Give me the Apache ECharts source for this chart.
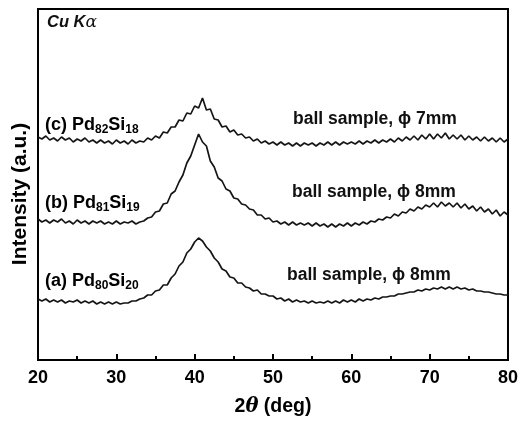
<!DOCTYPE html>
<html>
<head>
<meta charset="utf-8">
<script src="https://cdn.jsdelivr.net/npm/echarts@6/dist/echarts.min.js"></script>
<style>
html,body{margin:0;padding:0;background:#fff;}
#main{width:521px;height:425px;}
</style>
</head>
<body>
<div id="main"></div>
<script>
// 2theta sampled every 0.5 deg from 20 to 80
var theta_start = 20, theta_step = 0.5;

// (c) Pd82Si18, ball sample 7mm
var curve_c = [
    223,221,224,220,222,219,223,220,222,218,
    221,219,222,218,220,217,220,217,219,216,
    220,217,219,216,220,217,219,218,222,220,
    224,222,228,227,233,233,240,239,247,246,
    254,252,262,250,251,241,240,233,234,228,
    230,225,226,222,223,219,221,217,219,216,
    218,215,218,215,217,214,217,214,217,215,
    217,214,217,215,218,215,218,215,218,216,
    218,216,219,216,219,217,220,217,220,218,
    221,218,222,219,223,220,224,220,225,221,
    226,221,226,222,227,221,225,221,225,220,
    224,220,223,219,223,219,222,218,222,218,
    221
];
// (b) Pd81Si19, ball sample 8mm
var curve_b = [
    141,138,140,137,140,138,141,137,139,136,
    140,137,139,136,139,137,139,136,138,136,
    139,136,138,137,139,136,138,139,142,143,
    148,149,156,157,166,169,178,185,197,204,
    215,226,218,214,199,193,182,179,171,169,
    162,161,156,155,151,150,145,145,141,142,
    138,139,136,138,135,138,135,137,135,137,
    134,137,134,136,133,136,133,136,134,137,
    134,137,135,138,136,139,138,141,140,143,
    142,146,144,148,147,151,149,153,151,155,
    153,157,153,158,154,157,153,157,152,156,
    151,154,149,153,148,151,146,150,144,148,
    145
];
// (a) Pd80Si20, ball sample 8mm
var curve_a = [
    61,59,61,58,60,58,60,57,59,58,
    60,57,59,57,59,56,58,56,58,56,
    58,56,57,57,59,59,61,62,65,65,
    69,70,75,75,82,86,94,98,107,111,
    118,122,119,113,109,102,98,91,89,83,
    82,77,77,73,72,69,70,66,66,64,
    64,61,62,59,61,58,60,58,59,57,
    59,57,58,57,59,57,59,57,60,58,
    60,58,61,59,61,60,62,61,63,63,
    64,64,66,66,67,68,68,70,69,71,
    70,72,71,73,71,73,71,73,71,72,
    70,71,69,69,68,68,67,66,66,65,
    65
];

var x_ticks = [20, 30, 40, 50, 60, 70, 80];

function pairs(arr){
    var out = [];
    for (var i = 0; i < arr.length; i++) {
        out.push([theta_start + i * theta_step, arr[i]]);
    }
    return out;
}

var FONT = '"Liberation Sans", Arial, sans-serif';

var dom = document.getElementById('main');
var myChart = echarts.init(dom, null, {renderer: 'canvas'});

function line_series(name, arr){
    return {
        name: name,
        type: 'line',
        showSymbol: false,
        animation: false,
        data: pairs(arr),
        lineStyle: {color: '#151515', width: 1.7},
        z: 3
    };
}

var sample_label = function(letter, pd, si){
    return '{t|(' + letter + ') Pd}{s|' + pd + '}{t|Si}{s|' + si + '}';
};
var label_rich = {
    t: {fontFamily: FONT, fontWeight: 'bold', fontSize: 18, color: '#111', lineHeight: 21},
    s: {fontFamily: FONT, fontWeight: 'bold', fontSize: 12, color: '#111', lineHeight: 21, padding: [9, 0, 0, 0]}
};
var ball_font = 'bold 17.5px ' + FONT;

var option = {
    backgroundColor: '#fff',
    animation: false,
    grid: {
        left: 38, right: 10, top: 9, bottom: 65,
        show: true, borderColor: '#000', borderWidth: 2, backgroundColor: 'transparent'
    },
    xAxis: {
        type: 'value',
        min: 20, max: 80, interval: 10,
        axisLine: {show: true, lineStyle: {color: '#000', width: 2}},
        axisTick: {show: true, inside: true, length: 6, lineStyle: {color: '#000', width: 2}},
        minorTick: {show: true, splitNumber: 2, length: 4, lineStyle: {color: '#000', width: 2}},
        splitLine: {show: false},
        axisLabel: {
            color: '#000', fontFamily: FONT, fontWeight: 'bold', fontSize: 18, margin: 9,
            formatter: function(v){ return x_ticks.indexOf(v) >= 0 ? String(v) : ''; }
        },
        name: '{n|2}{th|θ}{n| (deg)}',
        nameLocation: 'middle',
        nameGap: 37,
        nameTextStyle: {
            rich: {
                n: {fontFamily: FONT, fontWeight: 'bold', fontSize: 19.5, color: '#000'},
                th: {fontFamily: '"DejaVu Serif", serif', fontStyle: 'italic', fontWeight: 'bold', fontSize: 19.5, color: '#000'}
            }
        }
    },
    yAxis: {
        type: 'value',
        min: 0, max: 351,
        axisLine: {show: true, lineStyle: {color: '#000', width: 2}},
        axisTick: {show: false},
        axisLabel: {show: false},
        splitLine: {show: false}
    },
    graphic: [
        {type: 'text', x: 20, y: 194, rotation: Math.PI / 2, z: 10,
         style: {text: 'Intensity (a.u.)', font: 'bold 21px ' + FONT, fill: '#000',
                 align: 'center', verticalAlign: 'middle'}},
        {type: 'text', left: 47, top: 14, z: 10,
         style: {text: '{n|Cu K}{a|α}', rich: {
             n: {fontFamily: FONT, fontWeight: 'bold', fontStyle: 'italic', fontSize: 16.5, fill: '#111'},
             a: {fontFamily: '"DejaVu Serif", serif', fontStyle: 'italic', fontSize: 17, fill: '#111'}
         }}},
        {type: 'text', left: 45, top: 115, z: 10, style: {text: sample_label('c', '82', '18'), rich: label_rich}},
        {type: 'text', left: 45, top: 193, z: 10, style: {text: sample_label('b', '81', '19'), rich: label_rich}},
        {type: 'text', left: 45, top: 271, z: 10, style: {text: sample_label('a', '80', '20'), rich: label_rich}},
        {type: 'text', left: 293, top: 110, z: 10, style: {text: 'ball sample, ϕ 7mm', font: ball_font, fill: '#111'}},
        {type: 'text', left: 292, top: 183, z: 10, style: {text: 'ball sample, ϕ 8mm', font: ball_font, fill: '#111'}},
        {type: 'text', left: 287, top: 266, z: 10, style: {text: 'ball sample, ϕ 8mm', font: ball_font, fill: '#111'}}
    ],
    series: [
        line_series('(c) Pd82Si18', curve_c),
        line_series('(b) Pd81Si19', curve_b),
        line_series('(a) Pd80Si20', curve_a)
    ]
};

myChart.setOption(option);
</script>
</body>
</html>
